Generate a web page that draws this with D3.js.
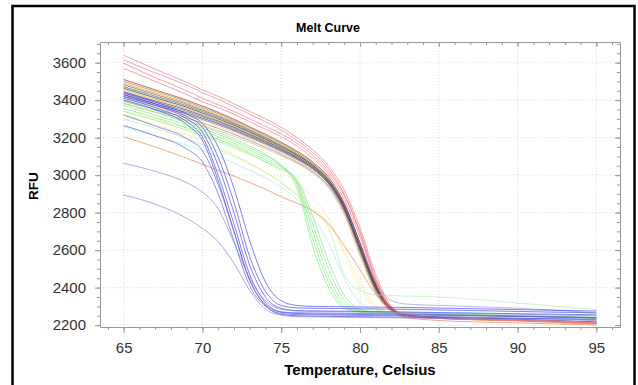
<!DOCTYPE html>
<html><head><meta charset="utf-8">
<script src="https://cdn.jsdelivr.net/npm/d3@7"></script>
<style>body{margin:0;background:#fff;} svg{display:block;font-family:"Liberation Sans",Arial,sans-serif;}</style>
</head><body><svg id="c" width="638" height="385"></svg>
<script>
// ---- data ----
const temps = [65,67,69,70,71,72,73,74,75,76,77,78,79,80,81,82,83,85,90,95];
const xTickLabels = [65,70,75,80,85,90,95];
const yTickLabels = [2200,2400,2600,2800,3000,3200,3400,3600];

const m1  = [3510,3455,3400,3368,3335,3298,3258,3218,3175,3128,3070,2990,2850,2640,2420,2292,2252,2240,2228,2214];
const m2  = [3500,3447,3393,3360,3328,3291,3252,3212,3170,3122,3064,2982,2840,2625,2410,2288,2250,2238,2226,2212];
const m3  = [3490,3438,3385,3352,3320,3284,3245,3205,3163,3116,3058,2975,2830,2605,2395,2280,2246,2235,2222,2205];
const m4  = [3482,3430,3378,3346,3314,3278,3240,3200,3158,3112,3055,2974,2835,2615,2400,2284,2249,2238,2226,2212];
const m5  = [3472,3421,3370,3339,3307,3272,3234,3195,3153,3107,3050,2968,2825,2600,2390,2280,2248,2238,2226,2213];
const m6  = [3463,3412,3362,3331,3300,3266,3229,3191,3150,3106,3052,2975,2845,2635,2415,2290,2252,2242,2230,2216];
const m7  = [3454,3404,3355,3325,3294,3260,3223,3185,3144,3099,3044,2962,2815,2590,2380,2276,2246,2236,2224,2210];
const m8  = [3445,3396,3348,3318,3288,3255,3218,3181,3141,3097,3044,2966,2832,2620,2405,2286,2250,2240,2228,2214];
const m9  = [3437,3389,3341,3312,3282,3249,3213,3176,3136,3092,3038,2958,2815,2595,2385,2280,2248,2238,2226,2212];
const m10 = [3428,3380,3333,3304,3275,3242,3207,3171,3132,3089,3037,2960,2825,2615,2400,2285,2250,2240,2229,2215];
const m11 = [3418,3371,3325,3297,3268,3236,3201,3165,3126,3083,3031,2953,2815,2600,2392,2282,2250,2240,2228,2214];
const m12 = [3408,3362,3316,3288,3259,3228,3193,3157,3118,3075,3022,2942,2795,2570,2370,2272,2245,2236,2224,2210];
const m13 = [3395,3350,3305,3277,3249,3218,3184,3149,3111,3069,3018,2942,2805,2595,2390,2280,2248,2238,2226,2212];
const m14 = [3380,3336,3292,3265,3237,3207,3174,3140,3103,3062,3011,2932,2790,2575,2375,2275,2246,2236,2224,2208];
const lav1 = [3470,3420,3370,3339,3308,3273,3235,3196,3155,3110,3055,2975,2840,2630,2430,2330,2312,2305,2290,2265];

const paleGreen  = [3300,3250,3195,3165,3135,3100,3060,3015,2960,2890,2810,2720,2470,2385,2362,2358,2355,2350,2318,2282];
const paleCyan   = [3258,3210,3160,3130,3100,3065,3025,2985,2935,2870,2780,2640,2450,2320,2280,2268,2262,2258,2248,2238];
const paleYellow1= [3347,3300,3250,3220,3190,3155,3115,3070,3020,2960,2880,2770,2580,2400,2290,2255,2245,2238,2226,2212];
const paleYellow2= [3321,3270,3215,3185,3150,3110,3065,3015,2960,2900,2830,2740,2600,2430,2300,2260,2248,2240,2228,2214];
const orange1    = [3205,3150,3090,3058,3025,2995,2960,2925,2885,2850,2810,2740,2625,2495,2365,2275,2240,2225,2212,2200];

const g1 = [3395,3345,3290,3260,3228,3193,3155,3110,3050,2930,2620,2400,2290,2270,2265,2262,2260,2256,2246,2236];
const g2 = [3385,3335,3280,3250,3218,3183,3145,3104,3055,2950,2660,2430,2300,2272,2267,2264,2262,2258,2248,2238];
const g3 = [3370,3321,3267,3237,3205,3170,3133,3093,3048,2960,2700,2460,2315,2275,2268,2265,2263,2259,2249,2239];
const g4 = [3355,3307,3253,3223,3192,3158,3121,3081,3040,2970,2740,2500,2335,2280,2270,2266,2264,2260,2250,2240];
const g5 = [3340,3293,3240,3210,3180,3146,3110,3070,3030,2975,2780,2540,2360,2285,2272,2268,2266,2262,2252,2242];

const p1 = [3640,3565,3495,3455,3420,3380,3340,3300,3255,3200,3135,3050,2920,2720,2470,2300,2255,2242,2230,2215];
const p2 = [3615,3545,3480,3440,3405,3365,3325,3285,3240,3185,3120,3035,2900,2700,2450,2290,2250,2238,2226,2212];
const p3 = [3597,3520,3450,3410,3375,3340,3300,3260,3220,3170,3105,3020,2890,2690,2440,2285,2250,2238,2226,2210];
const p4 = [3570,3500,3430,3392,3360,3325,3285,3245,3205,3155,3090,3005,2870,2670,2430,2280,2248,2236,2224,2208];

const b1 = [3440,3390,3325,3275,3150,2930,2650,2430,2330,2305,2300,2299,2298,2297,2296,2295,2294,2291,2283,2275];
const b2 = [3430,3380,3312,3255,3095,2855,2565,2380,2305,2292,2290,2289,2288,2287,2286,2285,2284,2281,2273,2265];
const b3 = [3420,3372,3300,3230,3050,2800,2520,2350,2290,2278,2276,2275,2274,2273,2272,2271,2270,2267,2261,2255];
const b4 = [3410,3360,3285,3205,3000,2740,2470,2320,2270,2262,2260,2259,2258,2257,2256,2255,2254,2252,2246,2240];
const b5 = [3400,3350,3270,3185,2970,2700,2440,2305,2258,2250,2248,2247,2246,2245,2244,2243,2242,2240,2236,2232];
const b6 = [3320,3262,3195,3130,2950,2700,2440,2310,2270,2266,2265,2264,2263,2262,2261,2260,2259,2256,2248,2240];
const b7 = [3265,3210,3140,3070,2900,2650,2410,2300,2262,2256,2255,2254,2253,2252,2251,2250,2249,2246,2237,2228];
const b8 = [3063,3020,2960,2910,2820,2640,2450,2330,2285,2275,2273,2272,2271,2270,2270,2269,2268,2266,2258,2250];
const b9 = [2894,2845,2770,2716,2645,2530,2385,2285,2253,2245,2244,2243,2242,2241,2240,2239,2238,2236,2230,2225];

// draw order and colours
const seriesList = [m1,m2,m3,m4,m5,m6,m7,m8,m9,m10,m11,m12,m13,m14,lav1,
  paleGreen,paleCyan,paleYellow1,paleYellow2,orange1,g1,g2,g3,g4,g5,p1,p2,p3,p4,
  b1,b2,b3,b4,b5,b6,b7,b8,b9];
const seriesColors = ["#a01c1c","#8c8a2a","#f08a30","#7a4a20","#3a9a3a","#202020","#e0b020","#7a1040","#208080","#303070","#8040a0","#f0e050","#808080","#f0a080","#9090e0",
  "#a8f0a8","#a8e8e8","#f0f090","#f5e880","#f07850","#80e880","#80e880","#80e880","#80e880","#80e880","#f07080","#f07080","#f07080","#f07080",
  "#3c3ce8","#3c3ce8","#3c3ce8","#3c3ce8","#3c3ce8","#5858e0","#5858e0","#8080e0","#8080e0"];

// ---- drawing ----
const svg = d3.select("#c");
const L=100, R=620, T=42, B=327;
const x = d3.scaleLinear().domain([63.5,96.5]).range([L,R]);
const y = d3.scaleLinear().domain([2190,3710]).range([B,T]);

svg.append("rect").attr("x",12.5).attr("y",6).attr("width",622).attr("height",392)
  .attr("fill","none").attr("stroke","#000").attr("stroke-width",2.5);

svg.append("text").attr("x",328).attr("y",31.5).attr("text-anchor","middle")
  .attr("font-size","12.5px").attr("font-weight","bold").text("Melt Curve");

// grid
const grid = svg.append("g").attr("stroke","#cfcfcf").attr("stroke-width",0.8).attr("stroke-dasharray","1,2");
grid.selectAll(".gx").data(xTickLabels).join("line")
  .attr("x1",d=>x(d)).attr("x2",d=>x(d)).attr("y1",T).attr("y2",B);
grid.selectAll(".gy").data(yTickLabels).join("line")
  .attr("y1",d=>y(d)).attr("y2",d=>y(d)).attr("x1",L).attr("x2",R);

function styleAxis(g){ g.selectAll("path,line").attr("stroke","#999"); }
const minorX = d3.range(64,97);
const minorY = d3.range(2200,3701,50);
const fmt = d3.format("d");

// bottom
svg.append("g").attr("transform",`translate(0,${B})`)
  .call(d3.axisBottom(x).tickValues(minorX).tickSize(3).tickSizeOuter(0).tickFormat(""))
  .call(styleAxis);
svg.append("g").attr("transform",`translate(0,${B})`)
  .call(d3.axisBottom(x).tickValues(xTickLabels).tickSize(6).tickSizeOuter(0).tickPadding(9).tickFormat(fmt))
  .call(styleAxis)
  .call(g=>g.select(".domain").remove())
  .call(g=>g.selectAll("text").attr("font-size","15px").attr("fill","#333").attr("font-family","Liberation Sans, Arial, sans-serif"));
// top
svg.append("g").attr("transform",`translate(0,${T})`)
  .call(d3.axisTop(x).tickValues(minorX).tickSize(-3).tickSizeOuter(0).tickFormat(""))
  .call(styleAxis);
svg.append("g").attr("transform",`translate(0,${T})`)
  .call(d3.axisTop(x).tickValues(xTickLabels).tickSize(-5).tickSizeOuter(0).tickFormat(""))
  .call(styleAxis).call(g=>g.select(".domain").remove());
// left
svg.append("g").attr("transform",`translate(${L},0)`)
  .call(d3.axisLeft(y).tickValues(minorY).tickSize(3).tickSizeOuter(0).tickFormat(""))
  .call(styleAxis);
svg.append("g").attr("transform",`translate(${L},0)`)
  .call(d3.axisLeft(y).tickValues(yTickLabels).tickSize(5).tickSizeOuter(0).tickPadding(9).tickFormat(fmt))
  .call(styleAxis)
  .call(g=>g.select(".domain").remove())
  .call(g=>g.selectAll("text").attr("font-size","15px").attr("fill","#333").attr("font-family","Liberation Sans, Arial, sans-serif"));
// right
svg.append("g").attr("transform",`translate(${R},0)`)
  .call(d3.axisRight(y).tickValues(minorY).tickSize(-3).tickSizeOuter(0).tickFormat(""))
  .call(styleAxis);
svg.append("g").attr("transform",`translate(${R},0)`)
  .call(d3.axisRight(y).tickValues(yTickLabels).tickSize(-5).tickSizeOuter(0).tickFormat(""))
  .call(styleAxis).call(g=>g.select(".domain").remove());

// lines
svg.append("clipPath").attr("id","clip").append("rect").attr("x",L).attr("y",T).attr("width",R-L).attr("height",B-T);
const line = d3.line().x((d,i)=>x(temps[i])).y(d=>y(d)).curve(d3.curveMonotoneX);
svg.append("g").attr("clip-path","url(#clip)")
  .selectAll("path").data(seriesList).join("path")
  .attr("d",line).attr("fill","none")
  .attr("stroke",(d,i)=>seriesColors[i]).attr("stroke-width",1).attr("stroke-opacity",0.65);

// axis titles
svg.append("text").attr("transform","translate(37.5,186) rotate(-90)").attr("text-anchor","middle")
  .attr("font-size","13.5px").attr("font-weight","bold").text("RFU");
svg.append("text").attr("x",360).attr("y",374.5).attr("text-anchor","middle")
  .attr("font-size","15px").attr("font-weight","bold").text("Temperature, Celsius");
</script></body></html>
